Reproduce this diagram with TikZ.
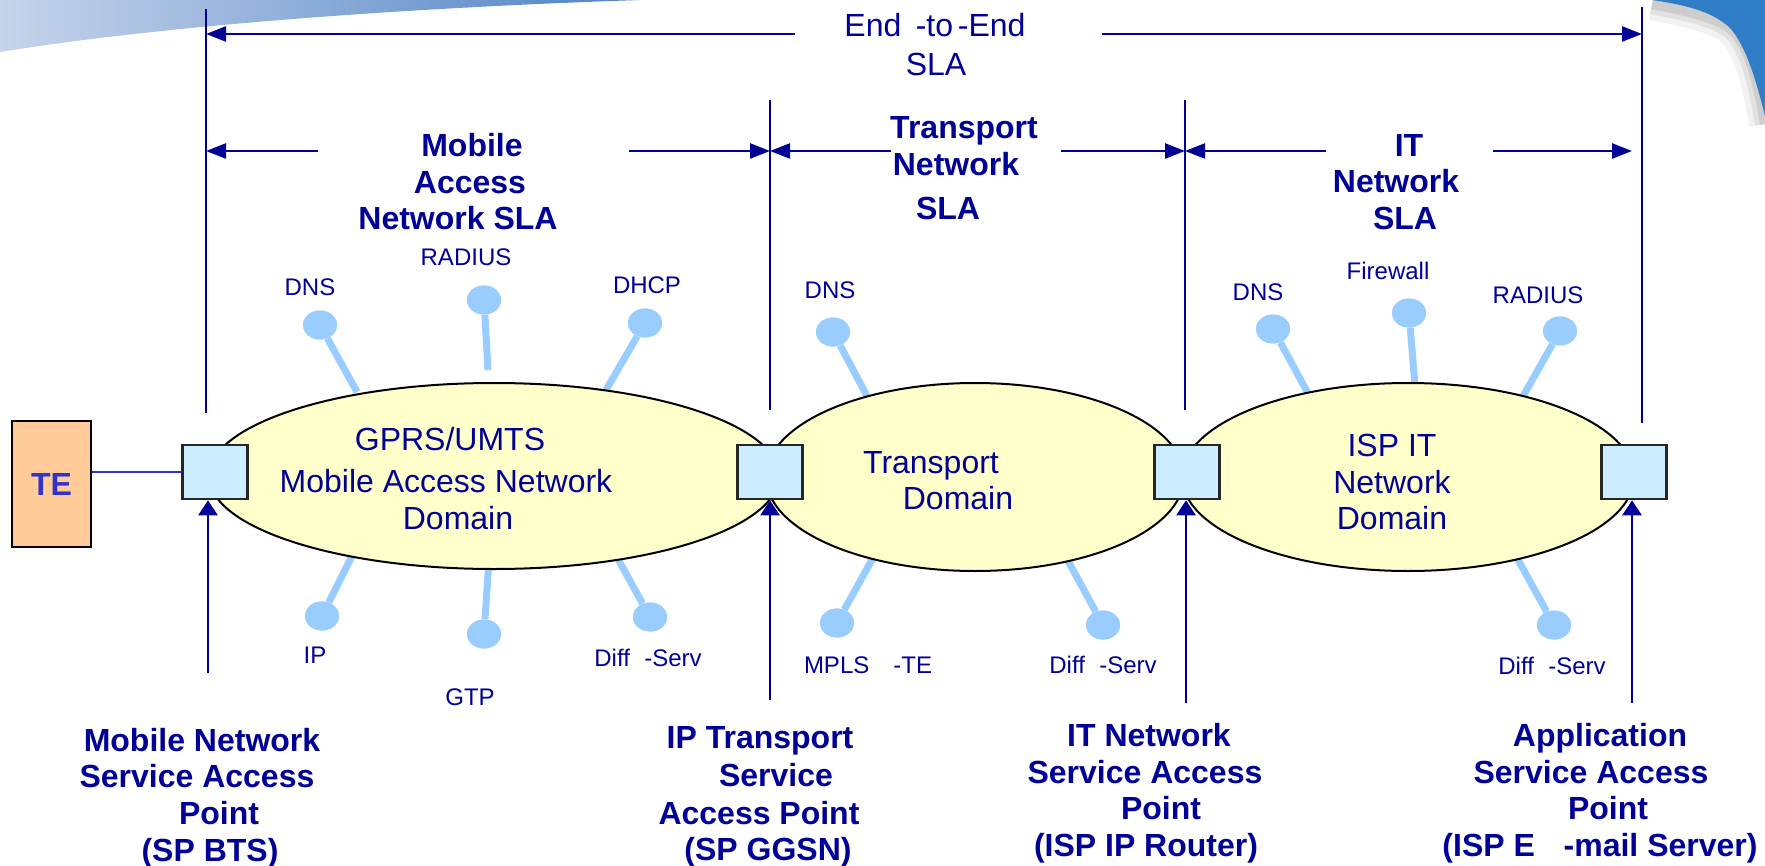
\documentclass[tikz,border=0pt]{standalone}
\usepackage{fontspec}
\setmainfont{Liberation Sans}
\usetikzlibrary{shapes.geometric,arrows.meta}
\definecolor{navy}{RGB}{0,0,150}
\definecolor{domfill}{HTML}{FFFFCC}
\definecolor{sapfill}{HTML}{CCECFF}
\definecolor{knobblue}{HTML}{99CCFF}
\definecolor{tefill}{HTML}{FFCC99}
\definecolor{teblue}{HTML}{3333CC}
\definecolor{swooshA}{HTML}{C6D4EA}
\definecolor{swooshB}{HTML}{4F82C6}
\definecolor{swooshC}{HTML}{2F7DC5}
\begin{document}
\begin{tikzpicture}[x=0.5pt,y=-0.5pt,
  bigtxt/.style={text=navy, inner sep=0pt, font=\fontsize{16}{19}\selectfont, text height=11.5pt, text depth=0pt},
  boldtxt/.style={bigtxt, font=\fontsize{16}{19}\selectfont\bfseries},
  smalltxt/.style={text=navy, inner sep=0pt, font=\fontsize{12}{14}\selectfont, text height=8.6pt, text depth=0pt},
  dom/.style={ellipse, draw=black, line width=1pt, fill=domfill, inner sep=0pt},
  sap/.style={draw=black!85, line width=1.3pt, fill=sapfill, minimum width=32.5pt, minimum height=27pt, inner sep=0pt},
  knob/.style={ellipse, fill=knobblue, minimum width=17pt, minimum height=14.5pt, inner sep=0pt},
  stick/.style={knobblue, line width=3.5pt},
  vline/.style={navy, line width=1pt},
  dimarrow/.style={navy, line width=1.2pt, -{Triangle[length=10pt,width=7.5pt]}},
  uparrow/.style={navy, line width=1.35pt, -{Triangle[length=7.5pt,width=9.5pt]}},
  teline/.style={teblue, line width=1pt}]
\useasboundingbox (0,0) rectangle (1765,866);

% corner decorations
\shade[left color=swooshA, right color=swooshB]
  (0,0) -- (640,0) .. controls (400,8) and (160,26) .. (0,52) -- cycle;
\foreach \w/\o in {16/0.05,10/0.07,5/0.09}
  \draw[black, opacity=\o, line width=\w pt]
    (1652,4) .. controls (1690,12) and (1722,18) .. (1736,34) .. controls (1752,55) and (1759,88) .. (1765,124);
\fill[swooshC] (1652,0) -- (1765,0) -- (1765,116)
  .. controls (1756,80) and (1746,46) .. (1730,28) .. controls (1712,11) and (1685,5) .. (1652,0) -- cycle;

% service pins (sticks first, domains cover their inner ends)
\node[knob] (k1) at (320,325) {};   \coordinate (k1e) at (357,392);
\node[knob] (k2) at (484,300) {};   \coordinate (k2e) at (488,370);
\node[knob] (k3) at (645,323) {};   \coordinate (k3e) at (606,390);
\node[knob] (k4) at (322,616) {};   \coordinate (k4e) at (356,548);
\node[knob] (k5) at (484,634) {};   \coordinate (k5e) at (489,560);
\node[knob] (k6) at (650,617) {};   \coordinate (k6e) at (613,550);
\node[knob] (k7) at (833,332) {};   \coordinate (k7e) at (868,398);
\node[knob] (k8) at (837,623) {};   \coordinate (k8e) at (874,556);
\node[knob] (k9) at (1103,625) {};  \coordinate (k9e) at (1067,559);
\node[knob] (k10) at (1273,329) {}; \coordinate (k10e) at (1310,397);
\node[knob] (k11) at (1409,313) {}; \coordinate (k11e) at (1415,386);
\node[knob] (k12) at (1560,331) {}; \coordinate (k12e) at (1522,398);
\node[knob] (k13) at (1554,625) {}; \coordinate (k13e) at (1516,556);
\foreach \k in {1,...,13} \draw[stick] (k\k e) -- (k\k);
\foreach \k in {1,...,13} \node[knob] at (k\k) {};

% network domains
\node[dom, minimum width=285pt, minimum height=93pt] (e1) at (494,476) {};
\node[dom, minimum width=209pt, minimum height=94pt] (e2) at (975,477) {};
\node[dom, minimum width=226pt, minimum height=94pt] (e3) at (1408,477) {};

% service access points
\node[sap] (s1) at (215,472) {};
\node[sap] (s2) at (770,472) {};
\node[sap] (s3) at (1187,472) {};
\node[sap] (s4) at (1634,472) {};

% terminal equipment
\node[draw=black, line width=1.3pt, fill=tefill, minimum width=39.5pt, minimum height=63pt,
      text=teblue, font=\fontsize{16}{19}\selectfont\bfseries] (te) at (51.5,484) {TE};
\draw[teline] (te.east |- s1.west) -- (s1.west);

% SLA boundaries
\coordinate (v1t) at (206,9);    \coordinate (v1b) at (206,413);
\coordinate (v2t) at (770,100);  \coordinate (v2b) at (770,410);
\coordinate (v3t) at (1185,100); \coordinate (v3b) at (1185,410);
\coordinate (v4t) at (1642,7);   \coordinate (v4b) at (1642,423);
\draw[vline] (v1t) -- (v1b);
\draw[vline] (v2t) -- (v2b);
\draw[vline] (v3t) -- (v3b);
\draw[vline] (v4t) -- (v4b);

% SLA extent arrows
\coordinate (t1) at (795,34);   \coordinate (t2) at (1102,34);
\draw[dimarrow] (t1) -- (t1 -| v1t);
\draw[dimarrow] (t2) -- (t2 -| v4t);
\coordinate (m1) at (318,151);  \coordinate (m2) at (629,151);
\draw[dimarrow] (m1) -- (m1 -| v1t);
\draw[dimarrow] (m2) -- (m2 -| v2t);
\coordinate (r1) at (891,151);  \coordinate (r2) at (1061,151);
\draw[dimarrow] (r1) -- (r1 -| v2t);
\draw[dimarrow] (r2) -- (r2 -| v3t);
\coordinate (i1) at (1326,151); \coordinate (i2) at (1493,151); \coordinate (i2e) at (1632,151);
\draw[dimarrow] (i1) -- (i1 -| v3t);
\draw[dimarrow] (i2) -- (i2e);

% access point arrows
\coordinate (a1) at (208,673);
\coordinate (a2) at (770,700);
\coordinate (a3) at (1186,703);
\coordinate (a4) at (1632,703);
\draw[uparrow] (a1) -- (a1 |- s1.south);
\draw[uparrow] (a2) -- (a2 |- s2.south);
\draw[uparrow] (a3) -- (a3 |- s3.south);
\draw[uparrow] (a4) -- (a4 |- s4.south);

% SLA titles
\node[bigtxt] (ee1) at (935,25) {End\hspace{0.45em}-to\hspace{0.15em}-End};
\node[bigtxt] (ee2) at (936,64) {SLA};
\node[boldtxt] (ma1) at (472,145) {Mobile};
\node[boldtxt] (ma2) at (470,182) {Access};
\node[boldtxt] (ma3) at (458,218) {Network SLA};
\node[boldtxt] (tn1) at (964,127) {Transport};
\node[boldtxt] (tn2) at (956,164) {Network};
\node[boldtxt] (tn3) at (948,208) {SLA};
\node[boldtxt] (in1) at (1409,145) {IT};
\node[boldtxt] (in2) at (1396,181) {Network};
\node[boldtxt] (in3) at (1405,218) {SLA};

% domain names
\node[bigtxt] (d11) at (450,439) {GPRS/UMTS};
\node[bigtxt] (d12) at (446,481) {Mobile Access Network};
\node[bigtxt] (d13) at (458,518) {Domain};
\node[bigtxt] (d21) at (931,462) {Transport};
\node[bigtxt] (d22) at (958,498) {Domain};
\node[bigtxt] (d31) at (1392,445) {ISP IT};
\node[bigtxt] (d32) at (1392,482) {Network};
\node[bigtxt] (d33) at (1392,518) {Domain};

% service labels
\node[smalltxt] (l1) at (310,287) {DNS};
\node[smalltxt] (l2) at (466,257) {RADIUS};
\node[smalltxt] (l3) at (647,285) {DHCP};
\node[smalltxt] (l4) at (315,655) {IP};
\node[smalltxt] (l5) at (470,697) {GTP};
\node[smalltxt] (l6) at (648,658) {Diff\hspace{0.6em}-Serv};
\node[smalltxt] (l7) at (830,290) {DNS};
\node[smalltxt] (l8) at (868,665) {MPLS\hspace{1em}-TE};
\node[smalltxt] (l9) at (1103,665) {Diff\hspace{0.6em}-Serv};
\node[smalltxt] (l10) at (1258,292) {DNS};
\node[smalltxt] (l11) at (1388,271) {Firewall};
\node[smalltxt] (l12) at (1538,295) {RADIUS};
\node[smalltxt] (l13) at (1552,666) {Diff\hspace{0.6em}-Serv};

% access point names
\node[boldtxt] (p11) at (202,740) {Mobile Network};
\node[boldtxt] (p12) at (197,776) {Service Access};
\node[boldtxt] (p13) at (219,813) {Point};
\node[boldtxt] (p14) at (210,850) {(SP BTS)};
\node[boldtxt] (p21) at (760,737) {IP Transport};
\node[boldtxt] (p22) at (776,775) {Service};
\node[boldtxt] (p23) at (759,813) {Access Point};
\node[boldtxt] (p24) at (768,849) {(SP GGSN)};
\node[boldtxt] (p31) at (1149,735) {IT Network};
\node[boldtxt] (p32) at (1145,772) {Service Access};
\node[boldtxt] (p33) at (1161,808) {Point};
\node[boldtxt] (p34) at (1146,845) {(ISP IP Router)};
\node[boldtxt] (p41) at (1600,735) {Application};
\node[boldtxt] (p42) at (1591,772) {Service Access};
\node[boldtxt] (p43) at (1608,808) {Point};
\node[boldtxt] (p44) at (1600,845) {(ISP E\hspace{0.9em}-mail Server)};
\end{tikzpicture}
\end{document}
